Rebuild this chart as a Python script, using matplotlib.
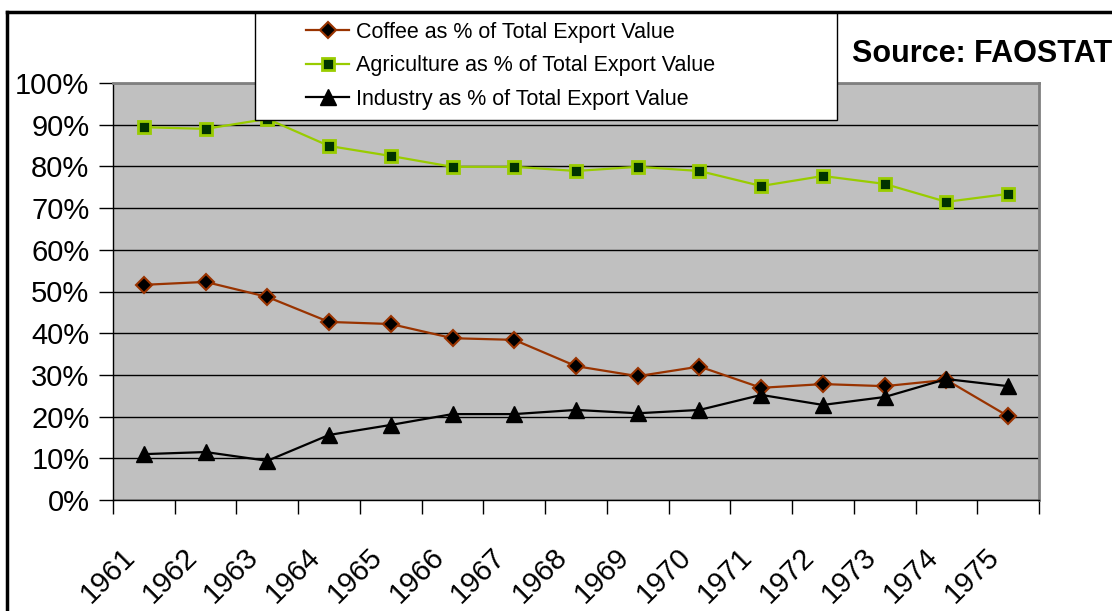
import matplotlib
matplotlib.use('Agg')
import matplotlib.pyplot as plt
from matplotlib.lines import Line2D
from matplotlib.patches import Rectangle

years = ['1961', '1962', '1963', '1964', '1965', '1966', '1967', '1968',
         '1969', '1970', '1971', '1972', '1973', '1974', '1975']
coffee = [51.6, 52.3, 48.7, 42.7, 42.2, 38.8, 38.4, 32.1, 29.7, 32.0,
          26.9, 27.8, 27.3, 28.8, 20.1]
agriculture = [89.4, 89.0, 91.4, 84.9, 82.5, 79.9, 79.9, 78.9, 79.9, 78.9,
               75.3, 77.7, 75.8, 71.5, 73.4]
industry = [11.0, 11.5, 9.4, 15.6, 18.0, 20.6, 20.6, 21.6, 20.8, 21.6,
            25.2, 22.8, 24.7, 29.0, 27.3]
yticks = [0, 10, 20, 30, 40, 50, 60, 70, 80, 90, 100]

plt.rcParams['font.family'] = ['Liberation Sans', 'DejaVu Sans']

W, H = 1112, 611
fig = plt.figure(figsize=(W / 100, H / 100), dpi=100)
ax = fig.add_axes([113 / W, 1 - 500 / H, (1039 - 113) / W, (500 - 83) / H])
ax.set_facecolor('#C0C0C0')

x = list(range(len(years)))
ax.plot(x, coffee, '-', color='#993300', lw=1.6, marker='D', ms=8,
        mfc='black', mec='#993300', mew=1.5, label='Coffee as % of Total Export Value')
ax.plot(x, agriculture, '-', color='#99CC00', lw=1.6, marker='s', ms=9,
        mfc='#003300', mec='#99CC00', mew=2, label='Agriculture as % of Total Export Value')
ax.plot(x, industry, '-', color='black', lw=1.6, marker='^', ms=11,
        mfc='black', mec='black', label='Industry as % of Total Export Value')

ax.set_xlim(-0.5, len(years) - 0.5)
ax.set_ylim(0, 100)
ax.set_yticks(yticks)
ax.set_yticklabels([f'{v}%' for v in yticks], fontsize=21)
ax.yaxis.grid(True, color='black', lw=1)
ax.set_axisbelow(True)

# year labels sit a little left of the category centre, as in the original
ax.set_xticks([i - 0.21 for i in x])
ax.set_xticklabels(years, fontsize=21, rotation=45, ha='right', va='center',
                   rotation_mode='anchor')
ax.set_xticks([i - 0.5 for i in range(len(years) + 1)], minor=True)
ax.tick_params(axis='x', which='major', length=0, pad=38)
ax.tick_params(axis='x', which='minor', length=10, direction='out', width=1)
ax.tick_params(axis='y', length=10, direction='out', width=1, pad=7)

for s in ['top', 'right']:
    ax.spines[s].set_color('#808080')
    ax.spines[s].set_linewidth(2)
for s in ['left', 'bottom']:
    ax.spines[s].set_color('black')
    ax.spines[s].set_linewidth(1)

# outer chart border (extends past the image edge)
fig.add_artist(Line2D([7 / W, 1], [1 - 12 / H, 1 - 12 / H], color='black', lw=2.5,
                      transform=fig.transFigure, zorder=10))
fig.add_artist(Line2D([7 / W, 7 / W], [0, 1 - 12 / H], color='black', lw=2.5,
                      transform=fig.transFigure, zorder=10))

# legend box
fig.add_artist(Rectangle((255 / W, 1 - 120 / H), (837 - 255) / W, (120 - 12) / H,
                         facecolor='white', edgecolor='black', lw=1,
                         transform=fig.transFigure, zorder=5))
leg = fig.legend(loc='upper left', bbox_to_anchor=(306 / W, 1 - 22 / H),
                 frameon=False, fontsize=15.5,
                 handlelength=2.0, handletextpad=0.3,
                 labelspacing=0.57, borderpad=0, borderaxespad=0)
leg.set_zorder(6)

fig.text(852 / W, 1 - 54 / H, 'Source: FAOSTAT', fontsize=22, fontweight='bold',
         va='center', ha='left')

fig.savefig('out.png', dpi=100)
